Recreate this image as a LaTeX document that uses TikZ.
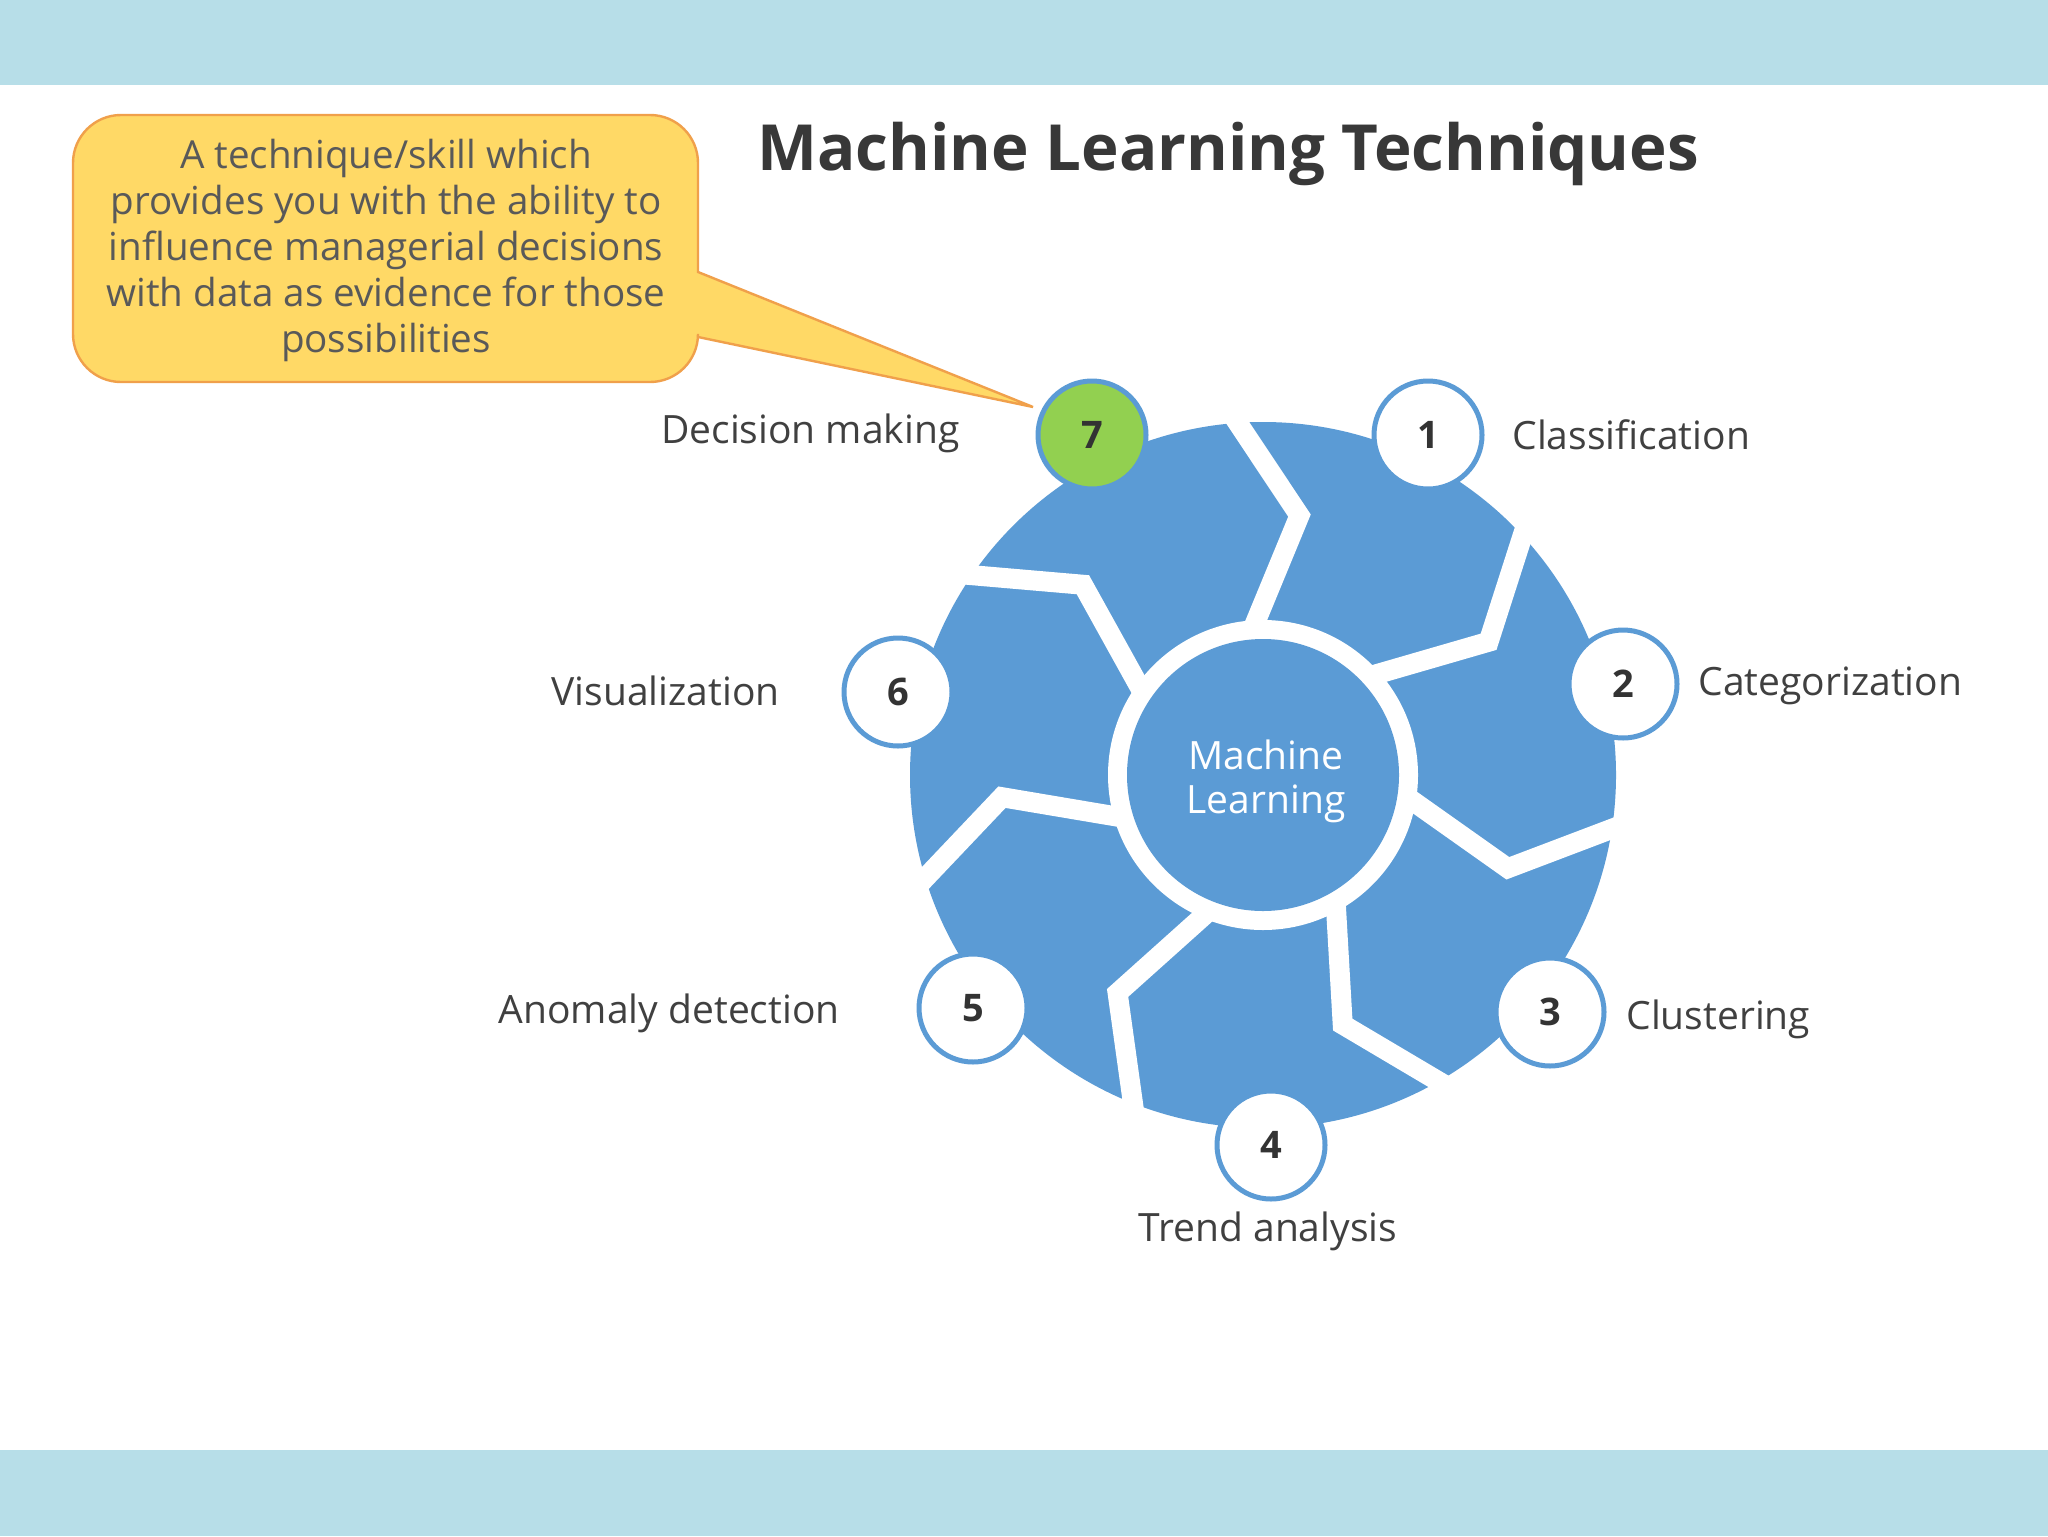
\documentclass[tikz,border=0pt]{standalone}
\usepackage{fontspec}
\setmainfont{Open Sans}
\usetikzlibrary{calc}
\definecolor{bandc}{HTML}{B7DEE8}
\definecolor{wheelblue}{HTML}{5B9BD5}
\definecolor{greenc}{HTML}{92D050}
\definecolor{callfill}{HTML}{FFD966}
\definecolor{callborder}{HTML}{F0A04B}
\definecolor{labtext}{HTML}{404040}
\definecolor{calltext}{HTML}{595959}
\definecolor{titletext}{HTML}{383838}
\definecolor{numtext}{HTML}{333333}
\tikzset{
  gapline/.style={white, line width=10pt, line join=miter, line cap=butt},
  numc/.style={circle, draw=wheelblue, line width=2.5pt, fill=white, minimum size=54pt, inner sep=0pt, text=numtext, font=\bfseries\fontsize{19}{19}\selectfont},
  lab/.style={inner sep=0pt, text=labtext, font=\fontsize{19.5}{22}\selectfont},
  callout/.style={fill=callfill, draw=callborder, line width=1.2pt, line join=miter}
}
\begin{document}
\begin{tikzpicture}[x=0.5pt,y=-0.5pt]
\useasboundingbox (0,0) rectangle (2048,1536);
\fill[white] (0,0) rectangle (2048,1536);
\fill[bandc] (0,0) rectangle (2048,85);
\fill[bandc] (0,1450) rectangle (2048,1536);

% title
\node[anchor=base west, inner sep=0pt, text=titletext, font=\bfseries\fontsize{31.8}{38}\selectfont] (title) at (757,170) {Machine Learning Techniques};

% wheel
\coordinate (C) at (1263,775);
\fill[wheelblue] (C) circle[radius=353];
\foreach \k in {0,...,6}{
  \pgfmathsetmacro\ai{-(92.5-51.4286*\k+0.5)}
  \pgfmathsetmacro\ak{-(92.5-51.4286*\k-10.5)}
  \pgfmathsetmacro\ao{-(92.5-51.4286*\k+1.5)}
  \coordinate (gi) at ($(C)+(\ai:152)$);
  \coordinate (gk) at ($(C)+(\ak:262)$);
  \coordinate (go) at ($(C)+(\ao:352)$);
  \draw[gapline] ($(gk)!1.3!(gi)$) -- (gk) -- ($(gk)!1.3!(go)$);
}
\fill[white] (C) circle[radius=155];
\node[circle, fill=wheelblue, minimum size=136pt, inner sep=0pt] (mlc) at (C) {};
\node[align=center, inner sep=0pt, text=white, font=\fontsize{19.5}{22}\selectfont] (ml) at (1266,781) {Machine\\Learning};

% callout
\draw[callout] (698,272) -- (1033,407) -- (698,337) [rounded corners=24pt] -- (698,382) -- (73,382) -- (73,115) -- (698,115) [sharp corners] -- cycle;
\node[align=center, text=calltext, inner sep=0pt, font=\fontsize{19.3}{23}\selectfont] (ct) at (386,250) {A technique/skill which\\provides you with the ability to\\influence managerial decisions\\with data as evidence for those\\possibilities};

% numbered circles
\node[numc] (n1) at (1428,435) {1};
\node[numc] (n2) at (1623,684) {2};
\node[numc] (n3) at (1550,1012) {3};
\node[numc] (n4) at (1271,1145) {4};
\node[numc] (n5) at (973,1008) {5};
\node[numc] (n6) at (898,692) {6};
\node[numc, fill=greenc] (n7) at (1092,435) {7};

% labels
\node[lab, anchor=base east] (l7) at (960,443) {Decision making};
\node[lab, anchor=base west] (l1) at (1512,449) {Classification};
\node[lab, anchor=base west] (l2) at (1698,695) {Categorization};
\node[lab, anchor=base west] (l3) at (1626,1029) {Clustering};
\node[lab, anchor=base] (l4) at (1268,1241) {Trend analysis};
\node[lab, anchor=base east] (l5) at (840,1023) {Anomaly detection};
\node[lab, anchor=base east] (l6) at (780,705) {Visualization};
\end{tikzpicture}
\end{document}
